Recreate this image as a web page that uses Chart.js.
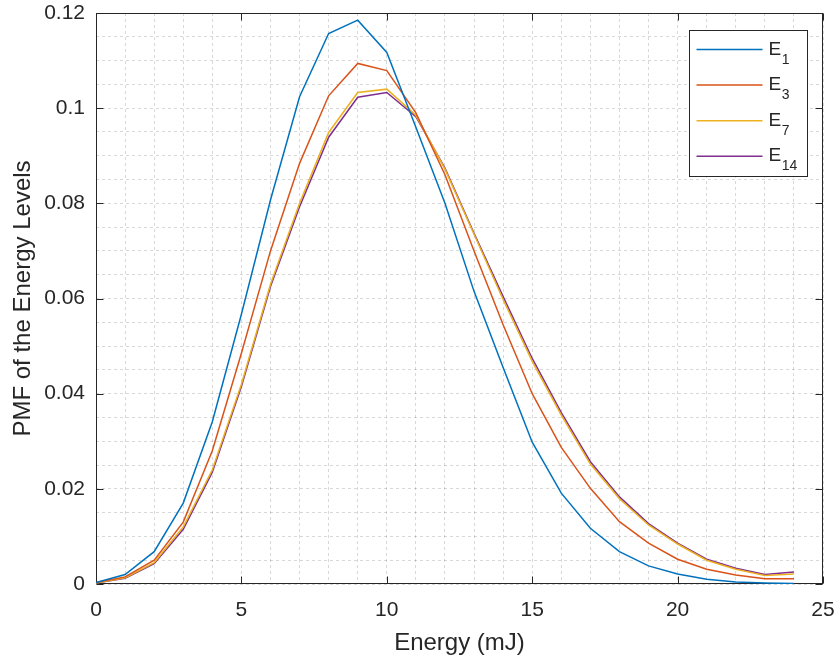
<!DOCTYPE html>
<html><head><meta charset="utf-8">
<script src="https://cdn.jsdelivr.net/npm/chart.js@4"></script>
<style>html,body{margin:0;padding:0;background:#fff}canvas{display:block}</style>
</head><body>
<canvas id="c" width="840" height="661"></canvas>
<script>
// ---- data ----
const energy = [0,1,2,3,4,5,6,7,8,9,10,11,12,13,14,15,16,17,18,19,20,21,22,23,24];
const E1  = [0.0003,0.0020,0.0068,0.0170,0.0341,0.0567,0.0807,0.1024,0.1157,0.1185,0.1117,0.0960,0.0800,0.0615,0.0455,0.0298,0.0191,0.0117,0.0068,0.0038,0.0021,0.0010,0.0004,0.0002,0.0001];
const E3  = [0.0003,0.0015,0.0050,0.0130,0.0280,0.0485,0.0700,0.0884,0.1026,0.1094,0.1079,0.0990,0.0860,0.0700,0.0545,0.0400,0.0287,0.0201,0.0131,0.0086,0.0052,0.0031,0.0019,0.0011,0.0011];
const E7  = [0.0002,0.0013,0.0045,0.0120,0.0240,0.0420,0.0630,0.0800,0.0949,0.1033,0.1040,0.0985,0.0872,0.0735,0.0598,0.0468,0.0355,0.0252,0.0179,0.0124,0.0084,0.0050,0.0031,0.0018,0.0021];
const E14 = [0.0002,0.0012,0.0043,0.0115,0.0235,0.0415,0.0625,0.0793,0.0939,0.1023,0.1033,0.0982,0.0874,0.0737,0.0604,0.0474,0.0360,0.0257,0.0183,0.0127,0.0086,0.0052,0.0033,0.0020,0.0025];
const seriesNames = ['E_1','E_3','E_7','E_14'];
const seriesColors = ['#0072BD','#D95319','#EDB120','#7E2F8E'];
const xTickLabels = ['0','5','10','15','20','25'];
const yTickLabels = ['0','0.02','0.04','0.06','0.08','0.1','0.12'];
const xTitle = 'Energy (mJ)';
const yTitle = 'PMF of the Energy Levels';

// ---- styling ----
const FONT = "'Liberation Sans', Arial, Helvetica, sans-serif";
const INK = '#262626';
const xMajor = xTickLabels.map(Number);
const yMajor = yTickLabels.map(Number);
const near = (v, arr) => arr.findIndex(a => Math.abs(a - v) < 1e-9);

const seriesData = [E1, E3, E7, E14];
const datasets = seriesData.map((arr, i) => ({
  label: seriesNames[i],
  data: arr.map((y, j) => ({x: energy[j], y})),
  borderColor: seriesColors[i],
  backgroundColor: seriesColors[i],
  borderWidth: 1.5,
  pointRadius: 0,
  tension: 0,
  fill: false
}));

const framePlugin = {
  id: 'frame',
  beforeDatasetsDraw(chart) {
    const {ctx, chartArea: a, scales: {x, y}} = chart;
    ctx.save();
    ctx.strokeStyle = INK;
    ctx.lineWidth = 1;
    const L = Math.round(a.left) + 0.5, R = Math.round(a.right) - 0.5;
    const T = Math.round(a.top) + 0.5, B = Math.round(a.bottom) - 0.5;
    ctx.strokeRect(L, T, R - L, B - T);
    const tl = 7;
    ctx.beginPath();
    xMajor.forEach(v => {
      const px = Math.round(x.getPixelForValue(v)) + 0.5;
      ctx.moveTo(px, B); ctx.lineTo(px, B - tl);
      ctx.moveTo(px, T); ctx.lineTo(px, T + tl);
    });
    yMajor.forEach(v => {
      const py = Math.round(y.getPixelForValue(v)) + 0.5;
      ctx.moveTo(L, py); ctx.lineTo(L + tl, py);
      ctx.moveTo(R, py); ctx.lineTo(R - tl, py);
    });
    ctx.stroke();
    ctx.restore();
  }
};

const legendPlugin = {
  id: 'mlLegend',
  afterDatasetsDraw(chart) {
    const {ctx, chartArea: a} = chart;
    const w = 118, h = 146;
    const bx = Math.round(a.right - 16 - w) + 0.5, by = Math.round(a.top + 17) + 0.5;
    ctx.save();
    ctx.fillStyle = '#fff';
    ctx.fillRect(bx, by, w, h);
    ctx.strokeStyle = INK;
    ctx.lineWidth = 1;
    ctx.strokeRect(bx, by, w, h);
    chart.data.datasets.forEach((ds, i) => {
      const ly = by + 19 + i * 35.6;
      ctx.strokeStyle = ds.borderColor;
      ctx.lineWidth = 1.5;
      ctx.beginPath();
      ctx.moveTo(bx + 7, ly); ctx.lineTo(bx + 73, ly);
      ctx.stroke();
      const [base, sub] = ds.label.split('_');
      ctx.fillStyle = INK;
      ctx.textBaseline = 'alphabetic';
      ctx.textAlign = 'left';
      ctx.font = '19px ' + FONT;
      const tx = bx + 79;
      ctx.fillText(base, tx, ly + 5);
      const bw = ctx.measureText(base).width;
      if (sub) {
        ctx.font = '14px ' + FONT;
        ctx.fillText(sub, tx + bw + 0.5, ly + 14);
      }
    });
    ctx.restore();
  }
};

const gridCommon = {
  color: 'rgba(38,38,38,0.18)',
  lineWidth: 1,
  drawTicks: false
};
const noPad = s => { s.paddingTop = 0; s.paddingBottom = 0; s.paddingLeft = 0; s.paddingRight = 0; };

new Chart(document.getElementById('c'), {
  type: 'line',
  data: {datasets},
  plugins: [framePlugin, legendPlugin],
  options: {
    responsive: false,
    animation: false,
    devicePixelRatio: 1,
    layout: {padding: {left: 0, right: 17, top: 13, bottom: 0}},
    plugins: {legend: {display: false}, tooltip: {enabled: false}},
    scales: {
      x: {
        type: 'linear', min: 0, max: 25,
        afterFit(s) { s.height = 77; noPad(s); },
        grid: gridCommon,
        border: {display: false, dash: [3, 3]},
        ticks: {
          stepSize: 1, autoSkip: false, maxRotation: 0, padding: 14,
          color: INK, font: {family: FONT, size: 21},
          callback(v) { const k = near(v, xMajor); return k >= 0 ? xTickLabels[k] : ''; }
        },
        title: {display: true, text: xTitle, color: INK, font: {family: FONT, size: 24}, padding: {top: 0, bottom: 3}}
      },
      y: {
        type: 'linear', min: 0, max: 0.12,
        afterFit(s) { s.width = 96; noPad(s); },
        grid: gridCommon,
        border: {display: false, dash: [3, 3]},
        ticks: {
          stepSize: 0.005, autoSkip: false, padding: 11,
          color: INK, font: {family: FONT, size: 21},
          callback(v) { const k = near(v, yMajor); return k >= 0 ? yTickLabels[k] : ''; }
        },
        title: {display: true, text: yTitle, color: INK, font: {family: FONT, size: 24}, padding: {top: 9, bottom: 0}}
      }
    }
  }
});
</script>
</body></html>
